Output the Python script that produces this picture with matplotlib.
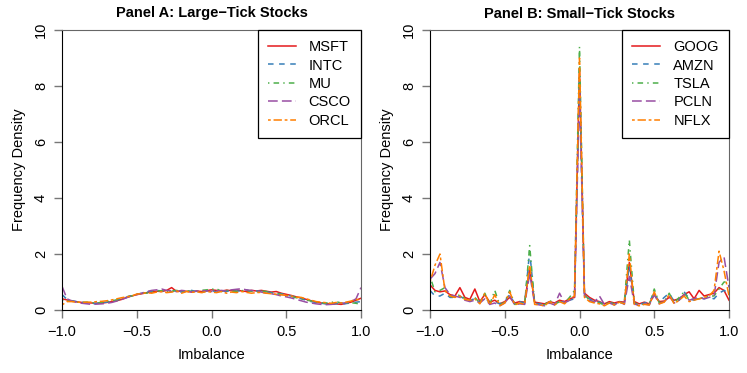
import numpy as np
import matplotlib
matplotlib.use("Agg")
import matplotlib.pyplot as plt

plt.rcParams['font.family'] = ['Liberation Sans', 'DejaVu Sans']
plt.rcParams['lines.scale_dashes'] = False

# bin centres of the imbalance histogram (-1 .. 1, 60 bins)
imbalance = np.linspace(-1, 1, 61)

# Panel A: large-tick stocks
large_names = ["MSFT", "INTC", "MU", "CSCO", "ORCL"]
msft = [0.40, 0.36, 0.32, 0.29, 0.27, 0.26, 0.25, 0.24, 0.25, 0.27,
        0.30, 0.33, 0.38, 0.45, 0.50, 0.55, 0.58, 0.62, 0.64, 0.67,
        0.66, 0.70, 0.80, 0.66, 0.68, 0.67, 0.64, 0.68, 0.66, 0.69,
        0.72, 0.70, 0.67, 0.71, 0.69, 0.72, 0.68, 0.66, 0.70, 0.68,
        0.70, 0.67, 0.64, 0.66, 0.60, 0.56, 0.52, 0.47, 0.43, 0.38,
        0.33, 0.28, 0.25, 0.23, 0.21, 0.22, 0.20, 0.24, 0.28, 0.35,
        0.42]
intc = [0.55, 0.38, 0.33, 0.30, 0.27, 0.25, 0.23, 0.24, 0.26, 0.28,
        0.31, 0.35, 0.40, 0.46, 0.52, 0.56, 0.60, 0.64, 0.66, 0.70,
        0.68, 0.67, 0.66, 0.69, 0.64, 0.67, 0.70, 0.66, 0.62, 0.68,
        0.70, 0.64, 0.68, 0.66, 0.71, 0.67, 0.69, 0.72, 0.66, 0.68,
        0.67, 0.65, 0.62, 0.60, 0.58, 0.54, 0.50, 0.46, 0.40, 0.35,
        0.30, 0.27, 0.24, 0.22, 0.20, 0.23, 0.21, 0.23, 0.25, 0.28,
        0.30]
mu = [0.35, 0.34, 0.31, 0.28, 0.27, 0.28, 0.26, 0.25, 0.27, 0.30,
      0.33, 0.36, 0.42, 0.48, 0.50, 0.56, 0.62, 0.60, 0.66, 0.68,
      0.69, 0.65, 0.68, 0.70, 0.66, 0.69, 0.67, 0.65, 0.70, 0.72,
      0.74, 0.76, 0.66, 0.70, 0.68, 0.66, 0.69, 0.70, 0.67, 0.64,
      0.68, 0.66, 0.62, 0.58, 0.56, 0.52, 0.48, 0.44, 0.40, 0.36,
      0.32, 0.28, 0.26, 0.25, 0.27, 0.30, 0.25, 0.24, 0.26, 0.24,
      0.20]
csco = [0.85, 0.40, 0.32, 0.27, 0.24, 0.22, 0.20, 0.21, 0.22, 0.24,
        0.27, 0.32, 0.38, 0.44, 0.52, 0.55, 0.60, 0.66, 0.70, 0.72,
        0.75, 0.70, 0.68, 0.66, 0.70, 0.68, 0.65, 0.67, 0.70, 0.68,
        0.66, 0.68, 0.70, 0.68, 0.72, 0.74, 0.76, 0.72, 0.70, 0.68,
        0.64, 0.60, 0.58, 0.55, 0.50, 0.47, 0.43, 0.38, 0.33, 0.28,
        0.25, 0.22, 0.20, 0.19, 0.20, 0.22, 0.24, 0.26, 0.30, 0.40,
        0.80]
orcl = [0.18, 0.30, 0.30, 0.28, 0.27, 0.28, 0.28, 0.30, 0.31, 0.33,
        0.36, 0.40, 0.44, 0.47, 0.50, 0.57, 0.58, 0.62, 0.60, 0.64,
        0.66, 0.62, 0.64, 0.68, 0.60, 0.66, 0.63, 0.65, 0.62, 0.66,
        0.64, 0.62, 0.66, 0.60, 0.64, 0.62, 0.66, 0.63, 0.60, 0.62,
        0.63, 0.60, 0.58, 0.56, 0.54, 0.52, 0.50, 0.46, 0.45, 0.40,
        0.35, 0.30, 0.28, 0.26, 0.24, 0.27, 0.25, 0.28, 0.32, 0.38,
        0.35]

# Panel B: small-tick stocks
small_names = ["GOOG", "AMZN", "TSLA", "PCLN", "NFLX"]
goog = [0.90, 0.70, 0.65, 0.68, 0.55, 0.50, 0.80, 0.45, 0.38, 0.75,
        0.30, 0.55, 0.28, 0.35, 0.22, 0.30, 0.45, 0.25, 0.30, 0.28,
        1.50, 0.28, 0.25, 0.22, 0.30, 0.25, 0.35, 0.30, 0.40, 0.45,
        8.60,
        0.60, 0.45, 0.35, 0.30, 0.22, 0.30, 0.25, 0.30, 0.28,
        1.70, 0.30, 0.22, 0.28, 0.22, 0.55, 0.30, 0.32, 0.45, 0.35,
        0.40, 0.55, 0.65, 0.40, 0.70, 0.50, 0.55, 0.60, 0.80, 0.70,
        0.35]
amzn = [0.70, 0.50, 0.50, 0.60, 0.45, 0.45, 0.50, 0.38, 0.35, 0.40,
        0.30, 0.45, 0.25, 0.30, 0.22, 0.32, 0.55, 0.22, 0.30, 0.25,
        2.10, 0.25, 0.22, 0.20, 0.28, 0.22, 0.30, 0.28, 0.35, 0.40,
        8.20,
        0.50, 0.40, 0.30, 0.28, 0.20, 0.25, 0.22, 0.28, 0.25,
        1.60, 0.25, 0.20, 0.25, 0.30, 0.60, 0.28, 0.45, 0.60, 0.30,
        0.35, 0.65, 0.40, 0.35, 0.45, 0.40, 0.45, 0.40, 0.60, 0.70,
        0.60]
tsla = [1.20, 0.65, 0.70, 0.80, 0.50, 0.45, 0.55, 0.40, 0.30, 0.45,
        0.25, 0.60, 0.20, 0.70, 0.18, 0.28, 0.70, 0.20, 0.25, 0.22,
        2.30, 0.22, 0.20, 0.18, 0.35, 0.20, 0.30, 0.25, 0.45, 0.70,
        9.40,
        0.55, 0.35, 0.30, 0.25, 0.18, 0.30, 0.20, 0.25, 0.30,
        2.50, 0.25, 0.18, 0.22, 0.20, 0.75, 0.25, 0.30, 0.60, 0.25,
        0.45, 0.65, 0.35, 0.40, 0.40, 0.45, 0.50, 0.50, 0.75, 1.00,
        1.00]
pcln = [1.10, 1.30, 1.70, 0.80, 0.55, 0.50, 0.45, 0.35, 0.30, 0.35,
        0.25, 0.40, 0.20, 0.25, 0.15, 0.25, 0.50, 0.18, 0.22, 0.20,
        1.30, 0.22, 0.18, 0.15, 0.25, 0.18, 0.60, 0.25, 0.35, 0.45,
        7.80,
        0.50, 0.35, 0.28, 0.50, 0.20, 0.25, 0.18, 0.30, 0.20,
        1.20, 0.22, 0.15, 0.22, 0.18, 0.55, 0.22, 0.30, 0.50, 0.25,
        0.35, 0.55, 0.35, 0.40, 0.45, 0.40, 0.45, 0.50, 1.70, 1.90,
        0.80]
nflx = [1.00, 1.60, 2.00, 0.70, 0.50, 0.45, 0.50, 0.38, 0.35, 0.40,
        0.22, 0.60, 0.18, 0.55, 0.15, 0.25, 0.65, 0.18, 0.25, 0.20,
        1.60, 0.20, 0.18, 0.15, 0.30, 0.18, 0.30, 0.22, 0.40, 0.50,
        9.00,
        0.45, 0.30, 0.25, 0.22, 0.15, 0.25, 0.18, 0.28, 0.22,
        2.00, 0.20, 0.15, 0.20, 0.18, 0.65, 0.22, 0.28, 0.55, 0.22,
        0.35, 0.50, 0.30, 0.35, 0.40, 0.45, 0.50, 0.70, 2.10, 1.40,
        0.50]

colors = ["#E41A1C", "#377EB8", "#4DAF4A", "#984EA3", "#FF7F00"]
# R line types: solid, dashed, dotdash, longdash, twodash
dashes = [None, (4, 4), (1, 3, 4, 3), (7, 3), (2, 2, 6, 2)]

fig = plt.figure(figsize=(7.47, 3.73), dpi=100)
ax_a = fig.add_axes([62 / 747, 63 / 373, 299 / 747, 280 / 373])
ax_b = fig.add_axes([430 / 747, 63 / 373, 299 / 747, 280 / 373])


def draw_panel(ax, title, names, series):
    for name, ys, col, d in zip(names, series, colors, dashes):
        line, = ax.plot(imbalance, ys, color=col, lw=1.1, label=name)
        if d is not None:
            line.set_dashes(d)
    ax.set_xlim(-1, 1)
    ax.set_ylim(0, 10)
    ax.set_xticks([-1.0, -0.5, 0.0, 0.5, 1.0])
    ax.set_xticklabels(["\u22121.0", "\u22120.5", "0.0", "0.5", "1.0"])
    ax.set_yticks([0, 2, 4, 6, 8, 10])
    ax.tick_params(axis='both', labelsize=10.5, length=6, width=1,
                   color='#777777', pad=5)
    ax.tick_params(axis='y', labelrotation=90, pad=4)
    for lab in ax.get_yticklabels():
        lab.set_va('center')
    for side in ['left', 'bottom']:
        ax.spines[side].set_color('black')
    for side in ['top', 'right']:
        ax.spines[side].set_color('#666666')
    ax.set_xlabel("Imbalance", fontsize=10.5, labelpad=6)
    ax.set_ylabel("Frequency Density", fontsize=10.5, labelpad=6)
    ax.set_title(title, fontsize=10.5, fontweight='bold', pad=9)
    leg = ax.legend(loc='upper right', borderaxespad=0, fancybox=False,
                    edgecolor='black', framealpha=1, fontsize=10.5,
                    handlelength=1.9, handletextpad=0.9, labelspacing=0.3,
                    borderpad=0.7)
    leg.get_frame().set_linewidth(0.9)


draw_panel(ax_a, "Panel A: Large\u2212Tick Stocks", large_names,
           [msft, intc, mu, csco, orcl])
draw_panel(ax_b, "Panel B: Small\u2212Tick Stocks", small_names,
           [goog, amzn, tsla, pcln, nflx])

fig.savefig("out.png", dpi=100)
